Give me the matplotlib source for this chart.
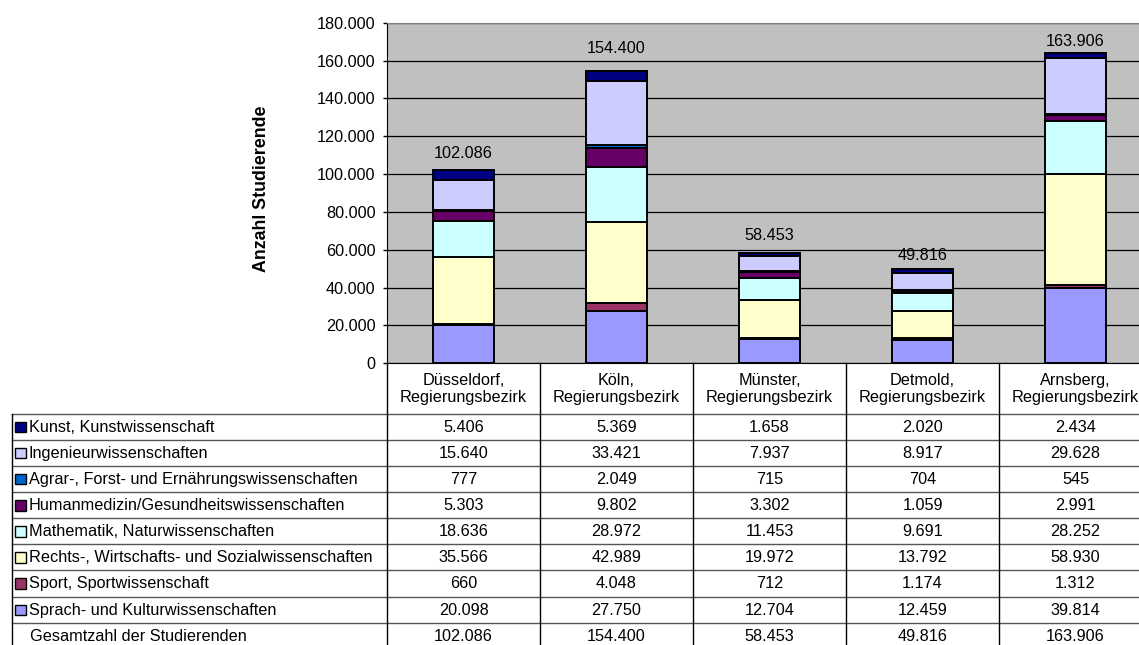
import matplotlib
matplotlib.use("Agg")
import matplotlib.pyplot as plt
from matplotlib.patches import Rectangle
from matplotlib.transforms import blended_transform_factory
import numpy as np

plt.rcParams['font.family'] = ['Liberation Sans', 'DejaVu Sans']
FS = 11.7

categories = ["Düsseldorf,\nRegierungsbezirk", "Köln,\nRegierungsbezirk", "Münster,\nRegierungsbezirk",
              "Detmold,\nRegierungsbezirk", "Arnsberg,\nRegierungsbezirk"]

# stacking order bottom -> top
series_names = ["Sprach- und Kulturwissenschaften", "Sport, Sportwissenschaft",
                "Rechts-, Wirtschafts- und Sozialwissenschaften", "Mathematik, Naturwissenschaften",
                "Humanmedizin/Gesundheitswissenschaften", "Agrar-, Forst- und Ernährungswissenschaften",
                "Ingenieurwissenschaften", "Kunst, Kunstwissenschaft"]
sprach = [20098, 27750, 12704, 12459, 39814]
sport = [660, 4048, 712, 1174, 1312]
rechts = [35566, 42989, 19972, 13792, 58930]
mathe = [18636, 28972, 11453, 9691, 28252]
human = [5303, 9802, 3302, 1059, 2991]
agrar = [777, 2049, 715, 704, 545]
ingenieur = [15640, 33421, 7937, 8917, 29628]
kunst = [5406, 5369, 1658, 2020, 2434]
totals = [102086, 154400, 58453, 49816, 163906]
total_label = "Gesamtzahl der Studierenden"

series_values = [sprach, sport, rechts, mathe, human, agrar, ingenieur, kunst]
colors = ["#9999FF", "#993366", "#FFFFCC", "#CCFFFF", "#660066", "#0066CC", "#CCCCFF", "#000080"]

yticks = [0, 20000, 40000, 60000, 80000, 100000, 120000, 140000, 160000, 180000]

# label offsets above bar tops (pixels, style only)
label_offsets_px = [17, 23, 17, 14, 12]


def de(n):
    return f"{n:,}".replace(",", ".")


W, H = 1139, 645
fig = plt.figure(figsize=(W / 100, H / 100), dpi=100)
PT = 72 / 100  # points per pixel

px_left, px_right = 387, 1152
px_top, px_bottom = 22.7, 363.3
ax = fig.add_axes([px_left / W, (H - px_bottom) / H, (px_right - px_left) / W, (px_bottom - px_top) / H])
ax.set_facecolor("#C0C0C0")
x = np.arange(len(categories))
bottom = np.zeros(len(categories))
for vals, col in zip(series_values, colors):
    ax.bar(x, vals, 0.4, bottom=bottom, color=col, edgecolor="black", linewidth=1.4, zorder=3)
    bottom += np.array(vals)
for xi, t, off in zip(x, totals, label_offsets_px):
    ax.annotate(de(t), (xi, t), xytext=(0, off * PT), textcoords="offset points",
                ha="center", va="center", fontsize=FS)
ax.set_xlim(-0.5, len(categories) - 0.5)
ax.set_ylim(0, 180000)
ax.set_yticks(yticks)
ax.set_yticklabels([de(v) for v in yticks], fontsize=FS)
ax.yaxis.grid(True, color="black", linewidth=0.9, zorder=1)
ax.set_axisbelow(True)
ax.set_xticks([])
ax.tick_params(axis="y", direction="out", length=4 * PT, width=1, pad=7.5 * PT)
for s in ["top", "right"]:
    ax.spines[s].set_color("#808080")
ax.spines["left"].set_color("black")
ax.spines["bottom"].set_color("black")

fig.text(262 / W, 1 - 189 / H, "Anzahl Studierende", rotation=90, ha="center", va="center",
         fontsize=12.8, fontweight="bold")

# overlay axes in pixel coordinates for the data table
ov = fig.add_axes([0, 0, 1, 1], facecolor="none")
ov.set_xlim(0, W)
ov.set_ylim(H, 0)
ov.axis("off")
bt = blended_transform_factory(ax.transData, ov.transData)

row_top = 413.5
row_h = 26.15
rows = list(reversed(series_names)) + [total_label]
row_vals = list(reversed(series_values)) + [totals]
row_cols = list(reversed(colors)) + [None]
n_rows = len(rows)
table_bottom = row_top + n_rows * row_h
tbl_left = 11.5

for xi, c in zip(x, categories):
    ov.text(xi, (px_bottom + row_top) / 2 + 0.5, c, transform=bt, ha="center", va="center",
            fontsize=FS, linespacing=1.12)

for i in range(n_rows + 1):
    yy = row_top + i * row_h
    ov.plot([tbl_left, px_right], [yy, yy], color="#555555", lw=1, clip_on=False)
ov.plot([tbl_left, tbl_left], [row_top, table_bottom], color="black", lw=1)
for b in np.arange(-0.5, len(categories) + 0.5, 1.0):
    ov.plot([b, b], [px_bottom, table_bottom], color="black", lw=1, transform=bt)

for i, (name, vals, col) in enumerate(zip(rows, row_vals, row_cols)):
    yc = row_top + i * row_h + row_h / 2
    if col is not None:
        ov.add_patch(Rectangle((15, yc - 5), 10.5, 10.5, facecolor=col, edgecolor="black", lw=1))
    ov.text(29 if col is not None else 30.5, yc + 0.5, name, ha="left", va="center", fontsize=FS)
    for xi, v in zip(x, vals):
        ov.text(xi, yc + 0.5, de(v), transform=bt, ha="center", va="center", fontsize=FS)

fig.savefig("out.png", dpi=100)
